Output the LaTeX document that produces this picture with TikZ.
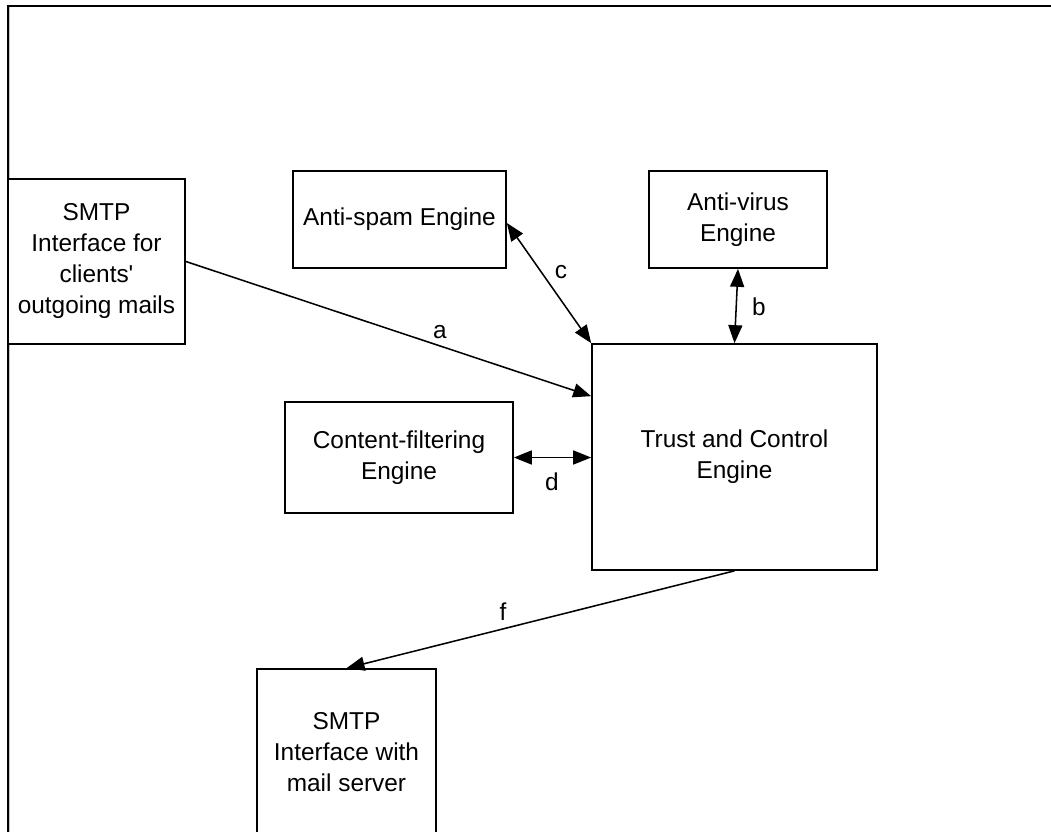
\documentclass[tikz,border=0pt]{standalone}
\usepackage{fontspec}
\setmainfont{Liberation Sans}[Ligatures={TeXOff,CommonOff}]
\usetikzlibrary{arrows.meta,calc}
\begin{document}
\begin{tikzpicture}[x=0.75pt,y=-0.75pt,
  font=\fontsize{18.3}{23.25}\selectfont,
  box/.style={draw=black,line width=1.25pt,fill=white,align=center,inner sep=0pt},
  tip/.tip={Triangle[length=13.5pt,width=10.5pt]},
  oneway/.style={line width=1.15pt,-tip},
  twoway/.style={line width=1.15pt,tip-tip},
  tag/.style={inner sep=0pt}]

% page area and white ground
\fill[white] (0,0) rectangle (1051,832);
\useasboundingbox (0,0) rectangle (1051,832);
\clip (0,0) rectangle (1051,832);

% outer frame (top and left sides) with a faint inner shade
\draw[gray!45,line width=0.75pt] (9.8,7) -- (9.8,840);
\draw[black,line width=1.5pt] (1060,5.7) -- (8.2,5.7) -- (8.2,840);

% engines and interfaces
\node[box,minimum width=132.75pt,minimum height=123.75pt] (smtpc) at (96.5,261.5)
  {SMTP\\Interface for\\clients'\\outgoing mails};
\node[box,minimum width=159.75pt,minimum height=72.75pt] (antispam) at (399.5,219.5)
  {Anti-spam Engine};
\node[box,minimum width=133.5pt,minimum height=72.75pt] (antivirus) at (738,219.5)
  {Anti-virus\\Engine};
\node[box,minimum width=171pt,minimum height=83.25pt] (content) at (399,457.5)
  {Content-filtering\\Engine};
\node[box,minimum width=213.75pt,minimum height=169.5pt] (trust) at (734.5,457)
  {Trust and Control\\Engine};
\node[box,minimum width=134.25pt,minimum height=124.5pt] (smtps) at (346.5,752)
  {SMTP\\Interface with\\mail server};

% connectors
\draw[oneway] (smtpc.east) -- ([yshift=-39.75pt]trust.north west);
\draw[twoway] ([yshift=-2.6pt]antispam.east) -- (trust.north west);
\draw[twoway] (antivirus.south) -- (trust.north);
\draw[twoway] (content.east) -- (content.east -| trust.west);
\draw[oneway] (trust.south) -- (smtps.north);

% connector labels
\node[tag] (la) at (440,332) {a};
\node[tag] (lb) at (759,307) {b};
\node[tag] (lc) at (561,272) {c};
\node[tag] (ld) at (552,481.5) {d};
\node[tag] (lf) at (503,612) {f};
\end{tikzpicture}
\end{document}
